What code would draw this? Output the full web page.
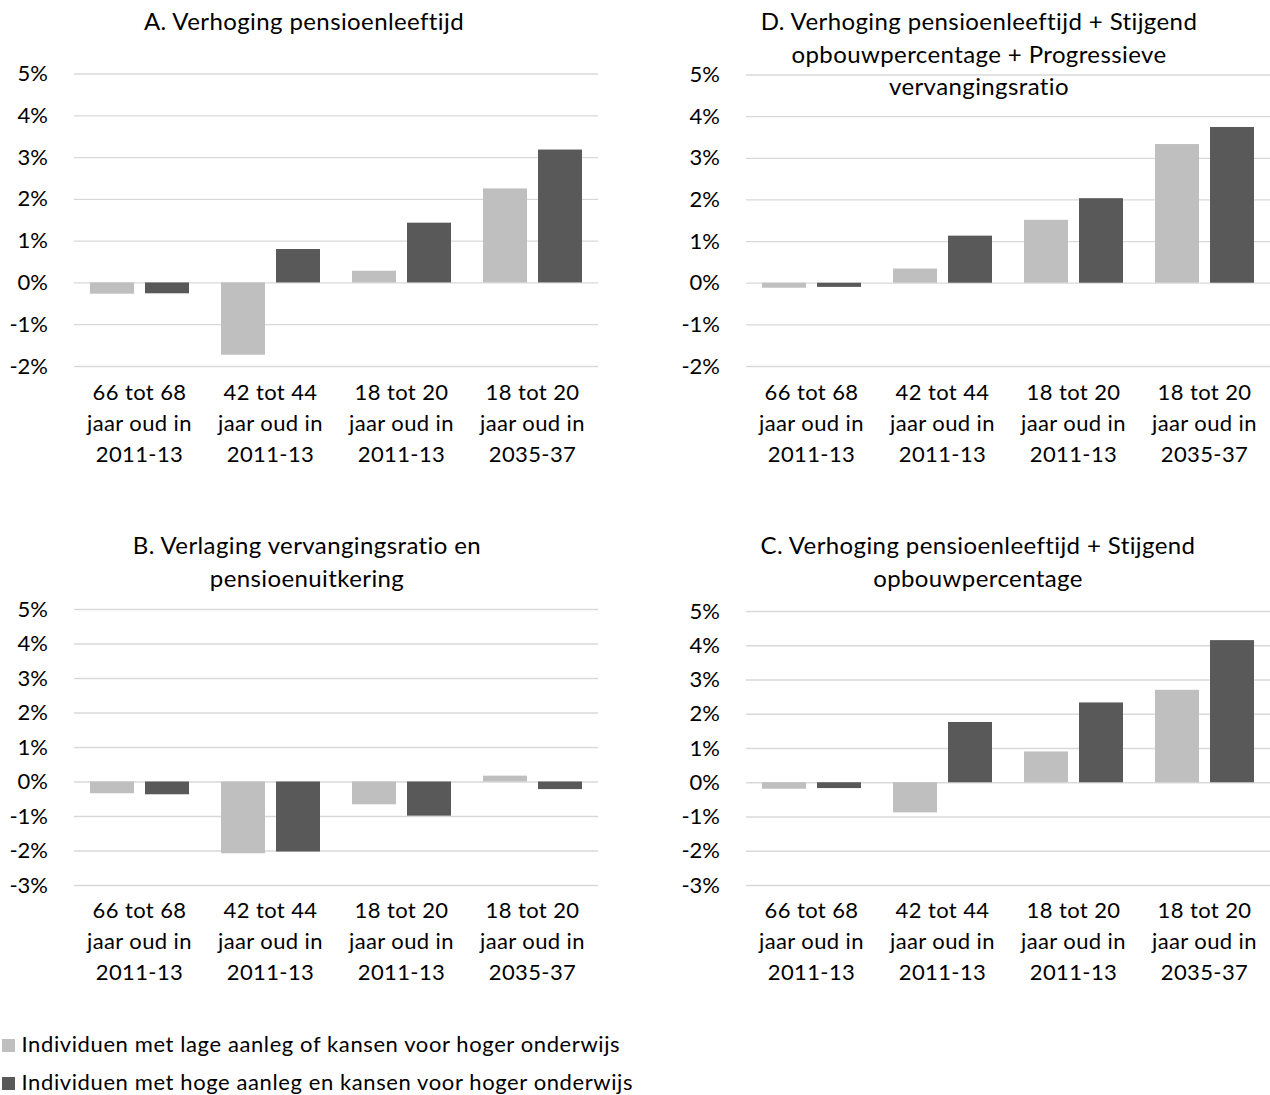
<!DOCTYPE html>
<html>
<head>
<meta charset="utf-8">
<script src="https://cdn.jsdelivr.net/npm/d3@7"></script>
<style>
  body { margin: 0; background: #fff; }
  svg { display: block; font-family: Lato, "Open Sans", sans-serif; }
</style>
</head>
<body>
<script>
const width = 1270;
const height = 1095;

// category labels (three lines each)
const categories = [
  ["66 tot 68", "jaar oud in", "2011-13"],
  ["42 tot 44", "jaar oud in", "2011-13"],
  ["18 tot 20", "jaar oud in", "2011-13"],
  ["18 tot 20", "jaar oud in", "2035-37"],
];

const seriesNames = [
  "Individuen met lage aanleg of kansen voor hoger onderwijs",
  "Individuen met hoge aanleg en kansen voor hoger onderwijs",
];
const seriesColors = ["#bfbfbf", "#595959"];

// values in %
const lowA = [-0.27, -1.73, 0.28, 2.25];
const highA = [-0.26, 0.8, 1.43, 3.18];
const lowD = [-0.12, 0.34, 1.51, 3.33];
const highD = [-0.1, 1.13, 2.03, 3.74];
const lowB = [-0.34, -2.08, -0.66, 0.17];
const highB = [-0.37, -2.03, -0.99, -0.22];
const lowC = [-0.19, -0.88, 0.9, 2.7];
const highC = [-0.17, 1.76, 2.33, 4.15];

const titleA = ["A. Verhoging pensioenleeftijd"];
const titleD = [
  "D. Verhoging pensioenleeftijd + Stijgend",
  "opbouwpercentage + Progressieve",
  "vervangingsratio",
];
const titleB = ["B. Verlaging vervangingsratio en", "pensioenuitkering"];
const titleC = ["C. Verhoging pensioenleeftijd + Stijgend", "opbouwpercentage"];

const ticksTop = [-2, -1, 0, 1, 2, 3, 4, 5];
const ticksBottom = [-3, -2, -1, 0, 1, 2, 3, 4, 5];

const svg = d3
  .select("body")
  .append("svg")
  .attr("width", width)
  .attr("height", height);

const drawPanel = (p) => {
  const g = svg.append("g");

  const yScale = d3
    .scaleLinear()
    .domain([p.ticks[0], p.ticks[p.ticks.length - 1]])
    .range([p.bottom, p.top]);

  const x0 = d3
    .scaleBand()
    .domain(d3.range(categories.length))
    .range([p.left, p.right])
    .paddingInner(32 / 131)
    .paddingOuter(16 / 131);

  const x1 = d3
    .scaleBand()
    .domain([0, 1])
    .range([0, x0.bandwidth()])
    .paddingInner(0.2);

  // gridlines + y labels
  const yAxis = d3
    .axisLeft(yScale)
    .tickValues(p.ticks)
    .tickSize(-(p.right - p.left))
    .tickPadding(26)
    .tickFormat((d) => d + "%");

  const ya = g
    .append("g")
    .attr("transform", "translate(" + p.left + ",0)")
    .call(yAxis);
  ya.select(".domain").remove();
  ya.selectAll("line").attr("stroke", "#d9d9d9").attr("stroke-width", 1.3);
  ya.selectAll("text")
    .attr("fill", "#000")
    .style("font-size", "22px")
    .style("font-family", "Lato, sans-serif");

  // bars
  const rows = [];
  categories.forEach((c, i) => {
    p.values.forEach((vals, s) => rows.push({ cat: i, s: s, v: vals[i] }));
  });

  g.selectAll("rect.bar")
    .data(rows)
    .enter()
    .append("rect")
    .attr("class", "bar")
    .attr("x", (d) => x0(d.cat) + x1(d.s))
    .attr("width", x1.bandwidth())
    .attr("y", (d) => yScale(Math.max(0, d.v)))
    .attr("height", (d) => Math.abs(yScale(d.v) - yScale(0)))
    .attr("fill", (d) => seriesColors[d.s]);

  // x labels
  const xl = g
    .selectAll("text.xlab")
    .data(categories)
    .enter()
    .append("text")
    .attr("class", "xlab")
    .attr("text-anchor", "middle")
    .style("font-size", "22px")
    .style("letter-spacing", "0.4px")
    .attr("fill", "#000");
  xl.selectAll("tspan")
    .data((d, i) => d.map((t) => ({ t: t, i: i })))
    .enter()
    .append("tspan")
    .attr("x", (d) => x0(d.i) + x0.bandwidth() / 2)
    .attr("y", (d, j) => p.labelY + j * 31)
    .text((d) => d.t);

  // title
  g.append("text")
    .attr("text-anchor", "middle")
    .style("font-size", "24px")
    .style("letter-spacing", "0.4px")
    .attr("fill", "#000")
    .selectAll("tspan")
    .data(p.title)
    .enter()
    .append("tspan")
    .attr("x", p.titleX)
    .attr("y", (d, j) => p.titleY + j * 32.5)
    .text((d) => d);
};

drawPanel({
  left: 74, right: 598, top: 73.5, bottom: 366, ticks: ticksTop,
  values: [lowA, highA], title: titleA, titleX: 304, titleY: 30, labelY: 400,
});
drawPanel({
  left: 746, right: 1270, top: 74.5, bottom: 366, ticks: ticksTop,
  values: [lowD, highD], title: titleD, titleX: 979, titleY: 30, labelY: 400,
});
drawPanel({
  left: 74, right: 598, top: 609, bottom: 885, ticks: ticksBottom,
  values: [lowB, highB], title: titleB, titleX: 307, titleY: 554, labelY: 918,
});
drawPanel({
  left: 746, right: 1270, top: 611, bottom: 885, ticks: ticksBottom,
  values: [lowC, highC], title: titleC, titleX: 978, titleY: 554, labelY: 918,
});

// legend
const legend = svg
  .append("g")
  .selectAll("g")
  .data(seriesNames)
  .enter()
  .append("g")
  .attr("transform", (d, i) => "translate(2," + (1039 + i * 38) + ")");
legend
  .append("rect")
  .attr("width", 13)
  .attr("height", 13)
  .attr("fill", (d, i) => seriesColors[i]);
legend
  .append("text")
  .attr("x", 19.5)
  .attr("y", 12.5)
  .style("font-size", "22px")
  .style("letter-spacing", "0.6px")
  .attr("fill", "#000")
  .text((d) => d);
</script>
</body>
</html>
